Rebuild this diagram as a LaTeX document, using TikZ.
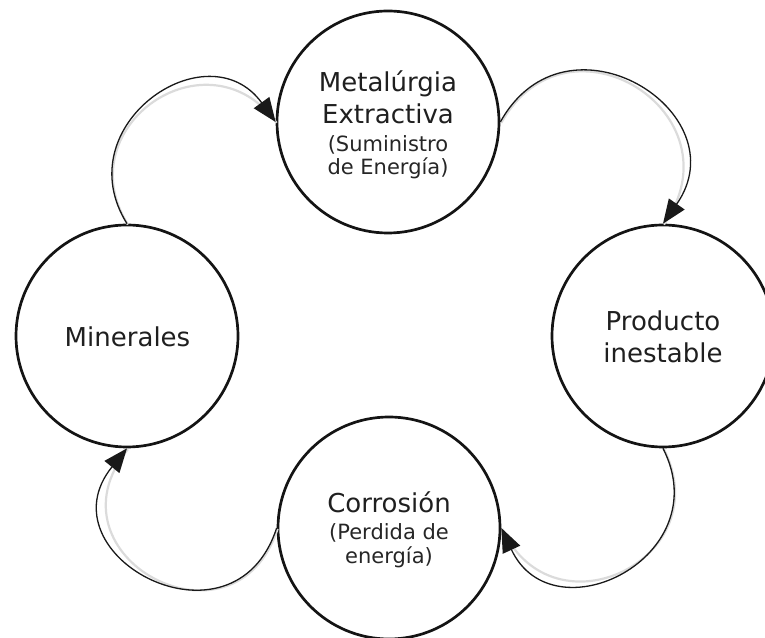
\documentclass[tikz,border=0pt]{standalone}
\usepackage{fontspec}
\setmainfont{DejaVu Sans}
\usetikzlibrary{arrows.meta}
\begin{document}
\begin{tikzpicture}[x=1pt,y=1pt,
  bubble/.style={circle, draw=black!92, line width=2.7pt, minimum size=222pt, inner sep=0pt},
  bigtxt/.style={anchor=base, font=\fontsize{26}{30}\selectfont, text=black!88, inner sep=0pt},
  smalltxt/.style={anchor=base, font=\fontsize{21}{24}\selectfont, text=black!85, inner sep=0pt},
  flow/.style={line width=1.3pt, draw=black!90, -{Triangle[length=24pt,width=19pt]},
    preaction={draw=black!14, line width=2.2pt, -, transform canvas={shift={(0.9pt,-0.9pt)}}}}]
\useasboundingbox (0,0) rectangle (765,637);
\clip (0,0) rectangle (765,637);

\node[bubble] (T) at (388,515) {};
\node[bubble] (R) at (663,301) {};
\node[bubble] (B) at (389,109) {};
\node[bubble] (L) at (127,301) {};

\node[bigtxt] (t1) at (388,545) {Metalúrgia};
\node[bigtxt] (t2) at (388,513) {Extractiva};
\node[smalltxt] (t3) at (388,485.5) {(Suministro};
\node[smalltxt] (t4) at (388,462) {de Energía)};

\node[bigtxt] (r1) at (663,306) {Producto};
\node[bigtxt] (r2) at (663,274) {inestable};

\node[bigtxt] (b1) at (389,124) {Corrosión};
\node[smalltxt] (b2) at (389,97) {(Perdida de};
\node[smalltxt] (b3) at (389,74) {energía)};

\node[bigtxt] (l1) at (127.5,290) {Minerales};

\draw[flow] (L.90) to[out=122,in=126,distance=116pt] (T.180);
\draw[flow] (T.0) to[out=61,in=55,distance=136pt] (R.90);
\draw[flow] (R.270) to[out=-63,in=-65,distance=122pt] (B.0);
\draw[flow] (B.180) to[out=-108,in=231,distance=138pt] (L.270);
\end{tikzpicture}
\end{document}
